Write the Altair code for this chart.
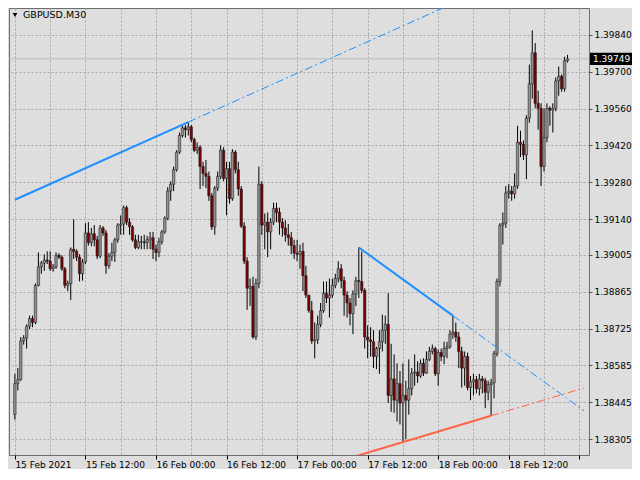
import altair as alt
import pandas as pd

# ---------------- data ----------------
symbol_title = "GBPUSD.M30"
first_open = 1.38398

close = [
    1.38516, 1.38531, 1.38678, 1.38689, 1.38734, 1.38763, 1.38748, 1.38889, 1.38959, 1.38974,
    1.38985, 1.38981, 1.38952, 1.38959, 1.39003, 1.38996, 1.38952, 1.38889, 1.38896, 1.39026,
    1.39018, 1.38996, 1.38933, 1.38978, 1.39088, 1.39051, 1.39085, 1.39062, 1.39000, 1.39107,
    1.39088, 1.38963, 1.39000, 1.39014, 1.39062, 1.39118, 1.39122, 1.39184, 1.39129, 1.39111,
    1.39062, 1.39033, 1.39055, 1.39054, 1.39051, 1.39062, 1.39070, 1.39026, 1.39014, 1.39055,
    1.39092, 1.39144, 1.39247, 1.39273, 1.39328, 1.39395, 1.39458, 1.39487, 1.39480, 1.39491,
    1.39443, 1.39402, 1.39413, 1.39340, 1.39314, 1.39303, 1.39229, 1.39111, 1.39258, 1.39303,
    1.39402, 1.39295, 1.39332, 1.39218, 1.39395, 1.39328, 1.39255, 1.39114, 1.38981, 1.38878,
    1.38885, 1.38693, 1.38896, 1.39273, 1.39118, 1.39129, 1.39092, 1.39129, 1.39181, 1.39166,
    1.39129, 1.39107, 1.39081, 1.39070, 1.39040, 1.39011, 1.39007, 1.39018, 1.38926, 1.38852,
    1.38793, 1.38678, 1.38682, 1.38741, 1.38793, 1.38859, 1.38841, 1.38852, 1.38889, 1.38915,
    1.38952, 1.38907, 1.38852, 1.38822, 1.38782, 1.38856, 1.38907, 1.38904, 1.38870, 1.38693,
    1.38682, 1.38675, 1.38619, 1.38649, 1.38675, 1.38719, 1.38741, 1.38471, 1.38534, 1.38453,
    1.38516, 1.38442, 1.38471, 1.38453, 1.38497, 1.38556, 1.38560, 1.38545, 1.38593, 1.38556,
    1.38608, 1.38638, 1.38649, 1.38553, 1.38634, 1.38619, 1.38649, 1.38656, 1.38704, 1.38712,
    1.38693, 1.38638, 1.38575, 1.38619, 1.38501, 1.38523, 1.38531, 1.38497, 1.38534, 1.38527,
    1.38483, 1.38512, 1.38519, 1.38630, 1.38904, 1.39118, 1.39125, 1.39240, 1.39247, 1.39236,
    1.39266, 1.39432, 1.39424, 1.39384, 1.39524, 1.39654, 1.39772, 1.39580, 1.39561, 1.39340,
    1.39450, 1.39561, 1.39554, 1.39561, 1.39665, 1.39683, 1.39635, 1.39742, 1.39749,
]

high = [
    1.38553, 1.38575, 1.38693, 1.38700, 1.38741, 1.38774, 1.38774, 1.38896, 1.39014, 1.38981,
    1.39007, 1.39018, 1.39018, 1.38970, 1.39014, 1.39011, 1.39003, 1.38959, 1.38907, 1.39033,
    1.39140, 1.39026, 1.39007, 1.38989, 1.39125, 1.39129, 1.39107, 1.39118, 1.39077, 1.39118,
    1.39114, 1.39099, 1.39011, 1.39051, 1.39070, 1.39125, 1.39155, 1.39192, 1.39192, 1.39144,
    1.39118, 1.39081, 1.39081, 1.39077, 1.39081, 1.39077, 1.39092, 1.39092, 1.39044, 1.39070,
    1.39099, 1.39151, 1.39262, 1.39284, 1.39340, 1.39402, 1.39469, 1.39495, 1.39498, 1.39509,
    1.39498, 1.39450, 1.39432, 1.39421, 1.39358, 1.39365, 1.39321, 1.39240, 1.39266, 1.39321,
    1.39421, 1.39413, 1.39358, 1.39358, 1.39406, 1.39402, 1.39358, 1.39266, 1.39129, 1.38996,
    1.38915, 1.38922, 1.38915, 1.39340, 1.39284, 1.39162, 1.39166, 1.39144, 1.39203, 1.39203,
    1.39184, 1.39144, 1.39136, 1.39122, 1.39092, 1.39062, 1.39062, 1.39044, 1.39051, 1.38963,
    1.38852, 1.38830, 1.38748, 1.38774, 1.38822, 1.38904, 1.38904, 1.38915, 1.38915, 1.38933,
    1.38981, 1.38970, 1.38922, 1.38867, 1.38841, 1.38870, 1.38922, 1.39033, 1.39018, 1.38878,
    1.38737, 1.38730, 1.38719, 1.38656, 1.38719, 1.38778, 1.38774, 1.38859, 1.38667, 1.38627,
    1.38593, 1.38564, 1.38593, 1.38527, 1.38608, 1.38575, 1.38627, 1.38601, 1.38608, 1.38612,
    1.38638, 1.38656, 1.38664, 1.38656, 1.38645, 1.38649, 1.38675, 1.38675, 1.38719, 1.38774,
    1.38748, 1.38712, 1.38656, 1.38638, 1.38634, 1.38545, 1.38553, 1.38545, 1.38553, 1.38545,
    1.38538, 1.38527, 1.38534, 1.38641, 1.38915, 1.39125, 1.39166, 1.39266, 1.39273, 1.39266,
    1.39314, 1.39495, 1.39476, 1.39439, 1.39535, 1.39727, 1.39857, 1.39809, 1.39628, 1.39580,
    1.39561, 1.39580, 1.39569, 1.39580, 1.39679, 1.39720, 1.39690, 1.39757, 1.39764,
]

low = [
    1.38379, 1.38490, 1.38527, 1.38664, 1.38649, 1.38723, 1.38730, 1.38741, 1.38885, 1.38933,
    1.38944, 1.38970, 1.38944, 1.38941, 1.38952, 1.38989, 1.38944, 1.38878, 1.38867, 1.38833,
    1.38989, 1.38981, 1.38904, 1.38907, 1.38970, 1.39040, 1.39037, 1.39037, 1.38989, 1.38992,
    1.39077, 1.38933, 1.38952, 1.38981, 1.38978, 1.39051, 1.39081, 1.39081, 1.39118, 1.39081,
    1.39055, 1.39026, 1.39026, 1.39026, 1.39026, 1.39026, 1.39026, 1.38989, 1.38981, 1.38996,
    1.39044, 1.39085, 1.39136, 1.39210, 1.39247, 1.39321, 1.39388, 1.39450, 1.39450, 1.39458,
    1.39432, 1.39395, 1.39388, 1.39255, 1.39266, 1.39258, 1.39210, 1.39099, 1.39081, 1.39247,
    1.39292, 1.39284, 1.39155, 1.39199, 1.39210, 1.39314, 1.39229, 1.39107, 1.38970, 1.38796,
    1.38811, 1.38686, 1.38682, 1.38878, 1.39081, 1.39026, 1.38996, 1.39026, 1.39118, 1.39129,
    1.39081, 1.39074, 1.39055, 1.39040, 1.39007, 1.38989, 1.38981, 1.38952, 1.38867, 1.38841,
    1.38785, 1.38667, 1.38612, 1.38667, 1.38730, 1.38785, 1.38822, 1.38767, 1.38841, 1.38878,
    1.38900, 1.38878, 1.38774, 1.38767, 1.38737, 1.38704, 1.38811, 1.38841, 1.38859, 1.38649,
    1.38612, 1.38619, 1.38575, 1.38571, 1.38553, 1.38638, 1.38667, 1.38442, 1.38409, 1.38405,
    1.38372, 1.38361, 1.38294, 1.38305, 1.38398, 1.38471, 1.38508, 1.38519, 1.38538, 1.38545,
    1.38553, 1.38601, 1.38627, 1.38545, 1.38508, 1.38601, 1.38590, 1.38612, 1.38649, 1.38686,
    1.38675, 1.38575, 1.38501, 1.38508, 1.38490, 1.38453, 1.38471, 1.38479, 1.38471, 1.38479,
    1.38423, 1.38453, 1.38394, 1.38460, 1.38619, 1.38885, 1.39044, 1.39107, 1.39218, 1.39210,
    1.39218, 1.39255, 1.39376, 1.39365, 1.39292, 1.39506, 1.39598, 1.39561, 1.39480, 1.39266,
    1.39321, 1.39432, 1.39495, 1.39469, 1.39550, 1.39609, 1.39624, 1.39624, 1.39735,
]

x_tick_bars = [0, 24, 48, 72, 96, 120, 144, 168]
x_tick_labels = ["15 Feb 2021", "15 Feb 12:00", "16 Feb 00:00", "16 Feb 12:00",
                 "17 Feb 00:00", "17 Feb 12:00", "18 Feb 00:00", "18 Feb 12:00"]
y_tick_values = [1.38305, 1.38445, 1.38585, 1.38725, 1.38865, 1.39005,
                 1.39140, 1.39280, 1.39420, 1.39560, 1.39700, 1.39840]
last_price = 1.39749

# trend lines: (colour, bar1, price1, bar2, price2, first bar of solid part)
trend_lines = [
    ("#1E90FF", 0, 1.39214, 59, 1.39509, 0),
    ("#1E90FF", 117, 1.39033, 149, 1.38774, 117),
    ("#FF6347", 132, 1.38294, 162, 1.38394, 110),
]

# ---------------- layout / style ----------------
W, H = 580, 447
X_MIN, X_MAX = -0.3, 193.6
Y_MIN, Y_MAX = 1.38245, 1.39942
FONT = "DejaVu Sans"
BG = "#DEDEDE"
GRID = "#A8A8A8"

n = len(close)
opens = [first_open] + close[:-1]
candles = pd.DataFrame({
    "i": list(range(n)),
    "open": opens,
    "close": close,
    "high": high,
    "low": low,
})
candles["dir"] = ["up" if c >= o else "down" for o, c in zip(opens, close)]

rows = []
for k, (col, b1, p1, b2, p2, s0) in enumerate(trend_lines):
    slope = (p2 - p1) / (b2 - b1)
    rows += [
        {"line": f"L{k}s", "part": "solid", "col": col, "bar": s0, "price": p1 + slope * (s0 - b1)},
        {"line": f"L{k}s", "part": "solid", "col": col, "bar": b2, "price": p2},
        {"line": f"L{k}d", "part": "dash", "col": col, "bar": b2, "price": p2},
        {"line": f"L{k}d", "part": "dash", "col": col, "bar": X_MAX, "price": p1 + slope * (X_MAX - b1)},
    ]
lines = pd.DataFrame(rows)

xscale = alt.Scale(domain=[X_MIN, X_MAX], nice=False, zero=False)
yscale = alt.Scale(domain=[Y_MIN, Y_MAX], nice=False, zero=False)

label_expr = "".join(
    f"datum.value === {b} ? '{lab}' : " for b, lab in zip(x_tick_bars, x_tick_labels)
) + "''"

xaxis = alt.Axis(
    values=list(range(0, 193, 12)), labelExpr=label_expr, title=None,
    grid=True, gridColor=GRID, gridDash=[2, 2], gridWidth=1,
    tickColor={"condition": {"test": "datum.value % 24 === 0", "value": "#000000"},
               "value": "transparent"},
    tickSize=4, labelAlign="left", labelBaseline="top", labelPadding=1,
    labelFont=FONT, labelFontSize=9, labelColor="#000000",
    labelFlush=False, labelOverlap=False, domain=False,
)
yaxis = alt.Axis(
    orient="right", values=y_tick_values, format=".5f", title=None,
    grid=True, gridColor=GRID, gridDash=[2, 2], gridWidth=1,
    tickSize=3, tickColor="#505050", labelPadding=2,
    labelFont=FONT, labelFontSize=9, labelColor="#000000",
    labelFlush=False, labelOverlap=False, domain=False,
)


def X(field):
    return alt.X(field, type="quantitative", scale=xscale, axis=xaxis)


def Y(field):
    return alt.Y(field, type="quantitative", scale=yscale, axis=yaxis)


bid_line = alt.Chart(pd.DataFrame({"price": [last_price]})).mark_rule(
    color="#BDBDBD", strokeWidth=1
).encode(y=Y("price"))

wicks = alt.Chart(candles).mark_rule(color="#000000", strokeWidth=1, clip=True).encode(
    x=X("i"), y=Y("low"), y2="high"
)

bodies = alt.Chart(candles).mark_bar(
    width=2.4, stroke="#1A1A1A", strokeWidth=0.55, clip=True
).encode(
    x=X("i"), y=Y("open"), y2="close",
    color=alt.Color("dir:N", scale=alt.Scale(domain=["up", "down"],
                                             range=["#939393", "#7D0000"]), legend=None),
)

solid = alt.Chart(lines).transform_filter(alt.datum.part == "solid").mark_line(
    strokeWidth=2, clip=True
).encode(x=X("bar"), y=Y("price"), detail="line:N", color=alt.Color("col:N", scale=None))

dashed = alt.Chart(lines).transform_filter(alt.datum.part == "dash").mark_line(
    strokeWidth=1, strokeDash=[8, 3, 2, 3], clip=True
).encode(x=X("bar"), y=Y("price"), detail="line:N", color=alt.Color("col:N", scale=None))

title_df = pd.DataFrame({"t": [symbol_title]})
title_txt = alt.Chart(title_df).mark_text(
    align="left", baseline="middle", font=FONT, fontSize=9.5, color="#000000"
).encode(x=alt.value(14), y=alt.value(7), text="t:N")
title_tri = alt.Chart(title_df).mark_point(
    shape="triangle-down", filled=True, color="#000000", size=22, opacity=1
).encode(x=alt.value(6), y=alt.value(7))

price_df = pd.DataFrame({"price": [last_price], "lab": [f"{last_price:.5f}"]})
price_box = alt.Chart(price_df).mark_point(
    shape="M0,-0.29L2,-0.29L2,0.29L0,0.29Z", size=1764, filled=True,
    color="#000000", opacity=1, clip=False
).encode(x=alt.value(W + 1), y=Y("price"))
price_txt = alt.Chart(price_df).mark_text(
    align="left", baseline="middle", font=FONT, fontSize=9, color="#FFFFFF", clip=False
).encode(x=alt.value(W + 4), y=Y("price"), text="lab:N")

chart = alt.layer(
    bid_line, wicks, bodies, solid, dashed, title_tri, title_txt, price_box, price_txt
).properties(
    width=W, height=H,
    padding={"left": 0, "top": 0, "right": 0, "bottom": 0},
    background=BG,
).configure_view(
    fill=BG, stroke="#6E6E6E", strokeWidth=1
)

chart.save("out.html", embed_options={"renderer": "svg", "actions": False})
